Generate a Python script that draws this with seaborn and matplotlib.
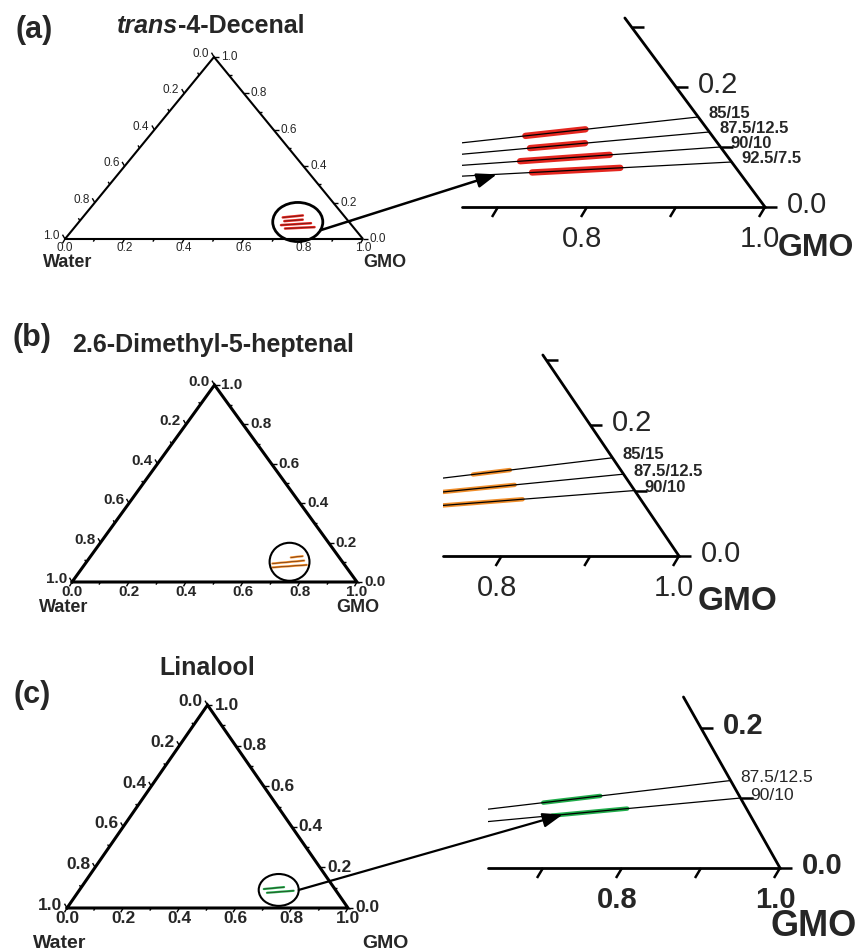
import numpy as np
import pandas as pd
import matplotlib
matplotlib.use("Agg")
import matplotlib.pyplot as plt
from matplotlib.patches import Ellipse, ConnectionPatch
from matplotlib.text import Annotation
import seaborn as sns

# ---------------- data ----------------
panel_letters = ["(a)", "(b)", "(c)"]
compound_names = ["trans-4-Decenal", "2.6-Dimethyl-5-heptenal", "Linalool"]

# GMO / (GMO + flavour) ratio of each dilution line
ratios_a = [0.85, 0.875, 0.90, 0.925]
ratios_b = [0.85, 0.875, 0.90]
ratios_c = [0.875, 0.90]
ratio_labels_a = ["85/15", "87.5/12.5", "90/10", "92.5/7.5"]
ratio_labels_b = ["85/15", "87.5/12.5", "90/10"]
ratio_labels_c = ["87.5/12.5", "90/10"]
# lipid (GMO + flavour) weight fraction where the coloured range starts / ends
start_a = [0.79, 0.785, 0.763, 0.767]
end_a = [0.863, 0.851, 0.869, 0.870]
start_b = [0.83, 0.75, 0.74]
end_b = [0.875, 0.869, 0.867]
start_c = [0.747, 0.749]
end_c = [0.824, 0.849]
# arrow target on the enlarged view: (ratio, lipid fraction)
arrow_ratio = [0.925, 0.90, 0.90]
arrow_lipid = [0.726, 0.761, 0.763]

series_colors = ["#e4261f", "#f08e2b", "#20ad4b"]

tern_ticks = [0.0, 0.1, 0.2, 0.3, 0.4, 0.5, 0.6, 0.7, 0.8, 0.9, 1.0]
tern_labels = ["0.0", "", "0.2", "", "0.4", "", "0.6", "", "0.8", "", "1.0"]
zoom_bottom_ticks = [0.7, 0.8, 0.9, 1.0]
zoom_bottom_labels = ["", "0.8", "", "1.0"]
zoom_right_ticks = [0.0, 0.1, 0.2, 0.3]
zoom_right_labels = ["0.0", "", "0.2", ""]

# ---------------- style / layout ----------------
sns.set_theme(style="white")
plt.rcParams["font.family"] = ["Liberation Sans", "DejaVu Sans"]

W, H = 859, 950
SQ = np.sqrt(3) / 2.0
fig = plt.figure(figsize=(W / 100, H / 100), dpi=100)
fig.patch.set_facecolor("white")

panels = [
    dict(ratios=ratios_a, labels=ratio_labels_a, start=start_a, end=end_a,
         left_box=(65, 57, 363, 239), zoom=(765, 207, 890, 693, 462, 18),
         tri_lw=1.5, tick_fs=8.5, tick_fw="normal", wg_fs=13,
         water_off=(3, -23), gmo_off=(22, -23), circ_r=(0.084, 0.093),
         circ_lw=2.0, arrow_ang=-25, arrow_lw=1.8,
         seg_left_lw=1.8, seg_zoom_lw=4.6, zt_fs=21, zt_fw="normal",
         zgmo_fs=23, zgmo_off=(51, -41), rl_fs=12, rl_fw="bold",
         letter_xy=(34, 30), title_xy=(117, 33), title_ha="left"),
    dict(ratios=ratios_b, labels=ratio_labels_b, start=start_b, end=end_b,
         left_box=(72, 385, 357, 582), zoom=(679, 556, 887, 756, 443, 355),
         tri_lw=2.2, tick_fs=11, tick_fw="bold", wg_fs=13,
         water_off=(-8, -26), gmo_off=(1, -26), circ_r=(0.070, 0.0835),
         circ_lw=1.5, arrow_ang=35, arrow_lw=1.6,
         seg_left_lw=1.6, seg_zoom_lw=3.2, zt_fs=21, zt_fw="normal",
         zgmo_fs=24, zgmo_off=(58, -45), rl_fs=12, rl_fw="bold",
         letter_xy=(32, 338), title_xy=(72, 352), title_ha="left"),
    dict(ratios=ratios_c, labels=ratio_labels_c, start=start_c, end=end_c,
         left_box=(67, 705, 348, 908), zoom=(780, 868, 790, 808, 488, 697),
         tri_lw=2.2, tick_fs=12.5, tick_fw="bold", wg_fs=14,
         water_off=(-7, -35), gmo_off=(37, -35), circ_r=(0.0712, 0.068),
         circ_lw=1.5, arrow_ang=0, arrow_lw=1.6,
         seg_left_lw=1.6, seg_zoom_lw=3.2, zt_fs=21, zt_fw="bold",
         zgmo_fs=26, zgmo_off=(34, -59), rl_fs=12.5, rl_fw="normal",
         letter_xy=(32, 695), title_xy=(207, 675), title_ha="center"),
]


def add_px_axes(x0, y0, x1, y1):
    ax = fig.add_axes([x0 / W, 1 - y1 / H, (x1 - x0) / W, (y1 - y0) / H])
    ax.set_axis_off()
    return ax


def tern(g, o):
    return g + o / 2.0, o * SQ


def line_xy(r, t):
    return tern(r * t, (1 - r) * t)


def px_tick(ax, x, y, dx, dy, lw, color="black"):
    p = ax.transData.transform((x, y))
    q = ax.transData.inverted().transform(p + np.array([dx, dy]))
    ax.plot([x, q[0]], [y, q[1]], color=color, lw=lw, clip_on=False,
            solid_capstyle="butt")


def ftext(x, y, s, **kw):
    return fig.text(x / W, 1 - y / H, s, **kw)


for i, P in enumerate(panels):
    color = series_colors[i]
    seg_rows, line_rows = [], []
    for k, (r, t0, t1) in enumerate(zip(P["ratios"], P["start"], P["end"])):
        for t in (t0, t1):
            x, y = line_xy(r, t)
            seg_rows.append(dict(line=k, x=x, y=y))
        for t in (0.0, 1.0):
            x, y = line_xy(r, t)
            line_rows.append(dict(line=k, x=x, y=y))
    seg_df = pd.DataFrame(seg_rows)
    line_df = pd.DataFrame(line_rows)

    # ---------- full ternary diagram ----------
    axL = add_px_axes(*P["left_box"])
    sns.lineplot(data=seg_df, x="x", y="y", units="line", estimator=None,
                 sort=False, color=color, lw=P["seg_left_lw"], ax=axL,
                 legend=False)
    sns.lineplot(data=seg_df, x="x", y="y", units="line", estimator=None,
                 sort=False, color="#301010", lw=0.35, ax=axL, legend=False)
    axL.plot([0, 1, 0.5, 0], [0, 0, SQ, 0], color="black", lw=P["tri_lw"],
             clip_on=False, solid_joinstyle="miter")
    axL.set_xlim(0, 1)
    axL.set_ylim(0, SQ)
    axL.set_axis_off()

    tfs, tfw = P["tick_fs"], P["tick_fw"]
    for v, lab in zip(tern_ticks, tern_labels):
        L = 5 if lab else 3
        # bottom axis (GMO)
        px_tick(axL, v, 0, -0.5 * L, -0.866 * L, 1.0)
        # right axis (flavour)
        xr, yr = tern(1 - v, v)
        px_tick(axL, xr, yr, L, 0, 1.0)
        # left axis (water)
        xl, yl = tern(0, 1 - v)
        px_tick(axL, xl, yl, -0.5 * L, 0.866 * L, 1.0)
        if lab:
            axL.annotate(lab, (v, 0), xytext=(0, -3), textcoords="offset pixels",
                         ha="center", va="top", fontsize=tfs, fontweight=tfw)
            axL.annotate(lab, (xr, yr), xytext=(7, 0), textcoords="offset pixels",
                         ha="left", va="center", fontsize=tfs, fontweight=tfw)
            axL.annotate(lab, (xl, yl), xytext=(-5, 3), textcoords="offset pixels",
                         ha="right", va="center", fontsize=tfs, fontweight=tfw)
    axL.annotate("Water", (0, 0), xytext=P["water_off"], textcoords="offset pixels",
                 ha="center", va="center", fontsize=P["wg_fs"], fontweight="bold")
    axL.annotate("GMO", (1, 0), xytext=P["gmo_off"], textcoords="offset pixels",
                 ha="center", va="center", fontsize=P["wg_fs"], fontweight="bold")

    cx = (seg_df.x.min() + seg_df.x.max()) / 2
    cy = (seg_df.y.min() + seg_df.y.max()) / 2
    rx, ry = P["circ_r"]
    axL.add_patch(Ellipse((cx, cy), 2 * rx, 2 * ry, fill=False, ec="black",
                          lw=P["circ_lw"], clip_on=False, zorder=5))

    # ---------- enlarged view ----------
    xv, yb, sx, sy, xlft, ytp = P["zoom"]
    axZ = add_px_axes(xlft, ytp, xv, yb)
    x0 = 1 - (xv - xlft) / sx
    ytop = (yb - ytp) / sy
    sns.lineplot(data=seg_df, x="x", y="y", units="line", estimator=None,
                 sort=False, color=color, lw=P["seg_zoom_lw"], ax=axZ,
                 legend=False)
    sns.lineplot(data=line_df, x="x", y="y", units="line", estimator=None,
                 sort=False, color="black", lw=0.9, ax=axZ, legend=False)
    axZ.set_xlim(x0, 1)
    axZ.set_ylim(0, ytop)
    axZ.set_axis_off()
    o_top = ytop / SQ
    axZ.plot([x0, 1], [0, 0], color="black", lw=2.0, clip_on=False)
    axZ.plot([1, 1 - o_top / 2], [0, ytop], color="black", lw=2.0, clip_on=False)

    zfs, zfw = P["zt_fs"], P["zt_fw"]
    for g, lab in zip(zoom_bottom_ticks, zoom_bottom_labels):
        if g < x0:
            continue
        px_tick(axZ, g, 0, -6, -10, 1.8)
        if lab:
            axZ.annotate(lab, (g, 0), xytext=(-5, -18), textcoords="offset pixels",
                         ha="center", va="top", fontsize=zfs, fontweight=zfw)
    for o, lab in zip(zoom_right_ticks, zoom_right_labels):
        if o > o_top:
            continue
        xr, yr = tern(1 - o, o)
        px_tick(axZ, xr, yr, 12, 0, 1.8)
        if lab:
            axZ.annotate(lab, (xr, yr), xytext=(22, 2), textcoords="offset pixels",
                         ha="left", va="center", fontsize=zfs, fontweight=zfw)
    axZ.annotate("GMO", (1, 0), xytext=P["zgmo_off"], textcoords="offset pixels",
                 ha="center", va="center", fontsize=P["zgmo_fs"], fontweight="bold")
    for r, lab in zip(P["ratios"], P["labels"]):
        xe, ye = line_xy(r, 1.0)
        axZ.annotate(lab, (xe, ye), xytext=(10, 3), textcoords="offset pixels",
                     ha="left", va="center", fontsize=P["rl_fs"],
                     fontweight=P["rl_fw"])

    # ---------- arrow between the views ----------
    ang = np.deg2rad(P["arrow_ang"])
    start = (cx + rx * np.cos(ang), cy + ry * np.sin(ang))
    end = line_xy(arrow_ratio[i], arrow_lipid[i])
    con = ConnectionPatch(xyA=start, coordsA="data", axesA=axL,
                          xyB=end, coordsB="data", axesB=axZ,
                          arrowstyle="-|>,head_length=0.6,head_width=0.22",
                          mutation_scale=20, lw=P["arrow_lw"], color="black",
                          shrinkA=0, shrinkB=0, zorder=10)
    fig.add_artist(con)

    # ---------- panel letter and title ----------
    ftext(*P["letter_xy"], panel_letters[i], fontsize=22, fontweight="bold",
          ha="center", va="center")
    name = compound_names[i]
    if name.startswith("trans-"):
        t1 = ftext(*P["title_xy"], "trans", fontsize=18, fontweight="bold",
                   style="italic", ha="left", va="baseline")
        fig.add_artist(Annotation(name[len("trans"):], xy=(1, 0), xycoords=t1,
                                  ha="left", va="bottom", fontsize=18,
                                  fontweight="bold"))
    else:
        ftext(*P["title_xy"], name, fontsize=18, fontweight="bold",
              ha=P["title_ha"], va="baseline")

fig.savefig("out.png", dpi=100, facecolor="white")
